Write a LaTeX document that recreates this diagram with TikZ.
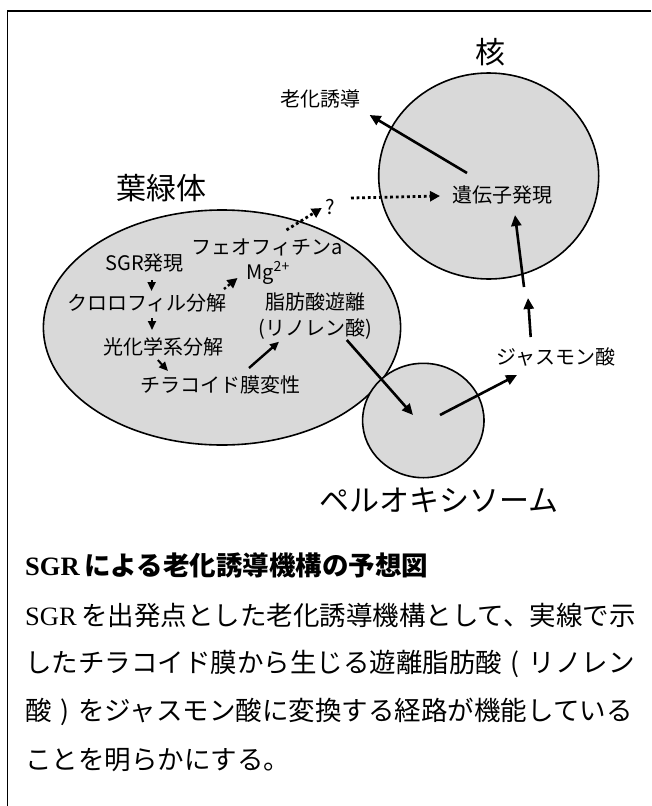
\documentclass[tikz,border=0pt]{standalone}
\usepackage{fontspec}
\setmainfont{Liberation Serif}
\newfontfamily\jp{Noto Sans CJK JP}
\usetikzlibrary{arrows.meta}
\definecolor{cellgray}{RGB}{217,217,217}
\begin{document}
\begin{tikzpicture}[x=1pt,y=-1pt,
  lab/.style={font=\jp\fontsize{20}{20}\selectfont, inner sep=0pt},
  big/.style={font=\jp\fontsize{30}{30}\selectfont, inner sep=0pt},
  body/.style={font=\fontsize{26.5}{26.5}\selectfont, inner sep=0pt, anchor=west},
  arr/.style={line width=2.6pt, -{Triangle[length=11pt,width=10pt]}},
  sarr/.style={line width=2pt, -{Triangle[length=9pt,width=8pt]}},
  darr/.style={line width=2.8pt, dash pattern=on 2.8pt off 2.8pt, -{Triangle[length=10pt,width=10pt]}},
  organelle/.style={draw, line width=1.6pt, fill=cellgray}]
\useasboundingbox (0,0) rectangle (651,806);
\draw[line width=1.6pt] (7.5,806) -- (7.5,11) -- (651,11);

% organelles
\draw[organelle] (488.7,176) ellipse [x radius=110pt, y radius=103pt];
\draw[organelle] (222,327.5) ellipse [x radius=178.6pt, y radius=117.5pt];
\draw[organelle] (423.3,420.5) ellipse [x radius=60.7pt, y radius=57.2pt];

% labels
\node[big] (nucT) at (490,52) {核};
\node[lab] (roka) at (320,99) {老化誘導};
\node[lab] (gene) at (502.5,195) {遺伝子発現};
\node[big] (chlT) at (161,188) {葉緑体};
\node[lab] (q) at (330,207) {?};
\node[lab] (pheo) at (267,247) {フェオフィチンa};
\node[lab] (sgr) at (144.5,263) {SGR発現};
\node[lab] (mg) at (268,273) {Mg\textsuperscript{2+}};
\node[lab] (chl) at (147,303) {クロロフィル分解};
\node[lab] (fa) at (315.6,302) {脂肪酸遊離};
\node[lab] (lin) at (315.6,329) {(リノレン酸)};
\node[lab] (ps) at (163,347) {光化学系分解};
\node[lab] (thy) at (220,385) {チラコイド膜変性};
\node[lab] (ja) at (556,357) {ジャスモン酸};
\node[big] (perT) at (439,500) {ペルオキシソーム};

% arrow end points
\coordinate (g1) at (467,173);   \coordinate (r1) at (369.6,115);
\coordinate (q1) at (351,198);   \coordinate (g2) at (440,196);
\coordinate (p1) at (286.5,230); \coordinate (q2) at (321.8,208);
\coordinate (s1) at (151.6,280); \coordinate (c1) at (151.6,291);
\coordinate (c2) at (224,289);   \coordinate (m1) at (237.5,278);
\coordinate (c3) at (152,318);   \coordinate (ps1) at (152,330);
\coordinate (ps2) at (157.8,360);\coordinate (t1) at (168,371);
\coordinate (t2) at (249,368);   \coordinate (f1) at (279,341.7);
\coordinate (l1) at (346.8,340); \coordinate (px1) at (413,415);
\coordinate (px2) at (440,415);  \coordinate (j1) at (517,375);
\coordinate (j2) at (530.7,337); \coordinate (mem1) at (528,298);
\coordinate (mem2) at (524,287); \coordinate (g3) at (515,215);

\draw[arr] (g1) -- (r1);
\draw[darr] (q1) -- (g2);
\draw[darr] (p1) -- (q2);
\draw[sarr] (s1) -- (c1);
\draw[darr, line width=2.4pt, dash pattern=on 2.4pt off 2.6pt] (c2) -- (m1);
\draw[sarr] (c3) -- (ps1);
\draw[sarr] (ps2) -- (t1);
\draw[sarr, line width=2.4pt] (t2) -- (f1);
\draw[arr] (l1) -- (px1);
\draw[arr] (px2) -- (j1);
\draw[arr] (j2) -- (mem1);
\draw[arr] (mem2) -- (g3);

% caption
\node[body] (title) at (25,565) {\textbf{SGR}\,{\jp\bfseries による老化誘導機構の予想図}};
\node[body] (b1) at (25,615) {SGR\,{\jp を出発点とした老化誘導機構として、実線で示}};
\node[body] (b2) at (25,663.5) {\jp したチラコイド膜から生じる遊離脂肪酸\makebox[1em][c]{(}リノレン};
\node[body] (b3) at (25,712) {\jp 酸\makebox[1em][c]{)}をジャスモン酸に変換する経路が機能している};
\node[body] (b4) at (25,760) {\jp ことを明らかにする。};
\end{tikzpicture}
\end{document}
